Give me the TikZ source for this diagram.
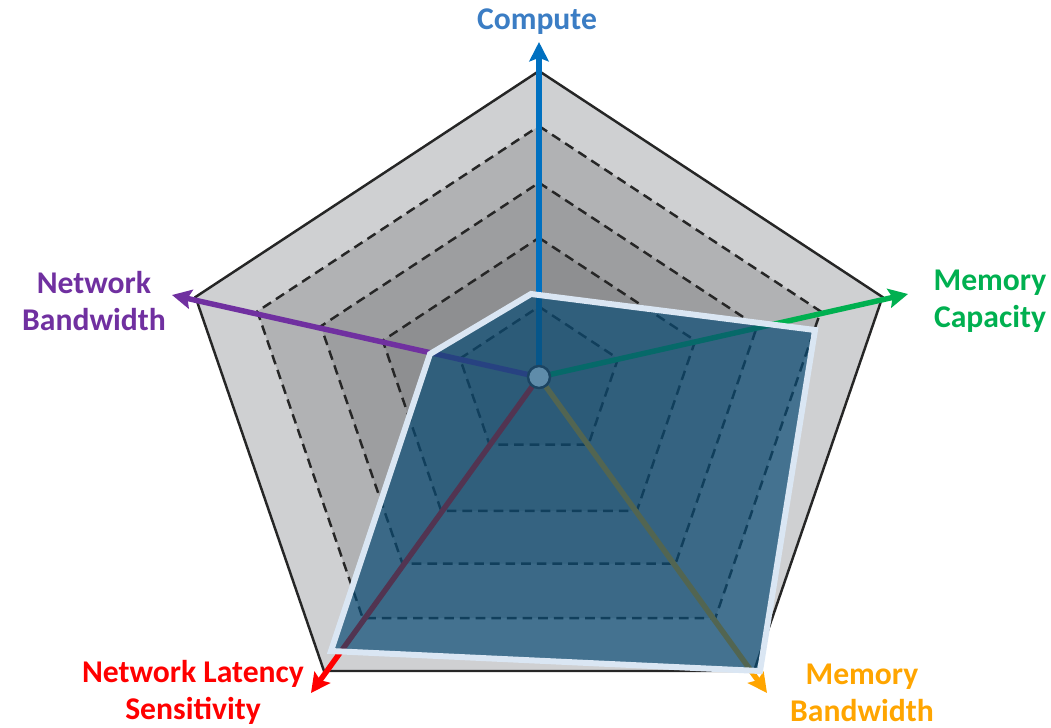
\documentclass[tikz,border=0pt]{standalone}
\usepackage{fontspec}
\setmainfont{Carlito}
\usetikzlibrary{arrows.meta}
\definecolor{RingA}{HTML}{CFD0D2}
\definecolor{RingB}{HTML}{B1B2B4}
\definecolor{RingC}{HTML}{9D9EA0}
\definecolor{RingD}{HTML}{8E8F91}
\definecolor{RingE}{HTML}{808183}
\definecolor{ComputeBlue}{HTML}{0070C0}
\definecolor{ComputeText}{HTML}{3B7DC4}
\definecolor{CapGreen}{HTML}{00B050}
\definecolor{NetPurple}{HTML}{7030A0}
\definecolor{LatRed}{HTML}{FF0000}
\definecolor{BwOrange}{HTML}{FFA500}
\definecolor{LoadFill}{RGB}{9,75,116}
\definecolor{LoadEdge}{HTML}{DAE6F3}
\definecolor{HubFill}{HTML}{5F8CAA}
\definecolor{HubEdge}{HTML}{1B4462}

% outer pentagon, scaled for the inner rings
\def\pentagon{(0,6.12) -- (6.87,1.60) -- (4.30,-5.88) -- (-4.30,-5.88) -- (-6.87,1.60) -- cycle}

\begin{document}
\begin{tikzpicture}[
    axis/.style={line width=3.1pt, -{Stealth[length=11pt, width=11pt, inset=2pt]}},
    grid/.style={draw=black!85, line width=1.4pt, dash pattern=on 5.5pt off 3.4pt},
    label/.style={font=\fontsize{18}{21}\selectfont\bfseries, align=center},
    load/.style={draw=LoadEdge, line width=3.4pt, fill=LoadFill, fill opacity=0.7},
    hub/.style={circle, draw=HubEdge, fill=HubFill, line width=1.4pt, minimum size=0.44cm, inner sep=0pt}
  ]
    \useasboundingbox (-10.78,-7.00) rectangle (10.24,7.54);

    \filldraw[fill=RingA, draw=black!85, line width=1.4pt] \pentagon;
    \foreach \s/\c in {0.82/RingB, 0.635/RingC, 0.455/RingD, 0.23/RingE}
      \filldraw[grid, fill=\c, scale=\s] \pentagon;

    \coordinate (o) at (0,0);
    \coordinate (tipCompute) at (0,6.70);
    \coordinate (tipCapacity) at (7.38,1.66);
    \coordinate (tipMemBw) at (4.56,-6.32);
    \coordinate (tipLatency) at (-4.56,-6.32);
    \coordinate (tipNetBw) at (-7.34,1.64);

    \draw[axis, ComputeBlue] (o) -- (tipCompute);
    \draw[axis, CapGreen] (o) -- (tipCapacity);
    \draw[axis, BwOrange] (o) -- (tipMemBw);
    \draw[axis, LatRed] (o) -- (tipLatency);
    \draw[axis, NetPurple] (o) -- (tipNetBw);

    \coordinate (dCompute) at (-0.16,1.66);
    \coordinate (dCapacity) at (5.52,0.94);
    \coordinate (dMemBw) at (4.42,-5.88);
    \coordinate (dLatency) at (-4.16,-5.48);
    \coordinate (dNetBw) at (-2.18,0.46);
    \filldraw[load] (dCompute) -- (dCapacity) -- (dMemBw) -- (dLatency) -- (dNetBw) -- cycle;

    \node[hub] (hub) at (o) {};

    \node[label, text=ComputeText] (compute) at (-0.04,7.10) {Compute};
    \node[label, text=CapGreen] (capacity) at (9.02,1.52) {Memory\\Capacity};
    \node[label, text=NetPurple] (netbw) at (-8.90,1.52) {Network\\Bandwidth};
    \node[label, text=LatRed] (latency) at (-6.92,-6.30) {Network Latency\\Sensitivity};
    \node[label, text=BwOrange] (membw) at (6.46,-6.32) {Memory\\Bandwidth};
  \end{tikzpicture}
\end{document}
